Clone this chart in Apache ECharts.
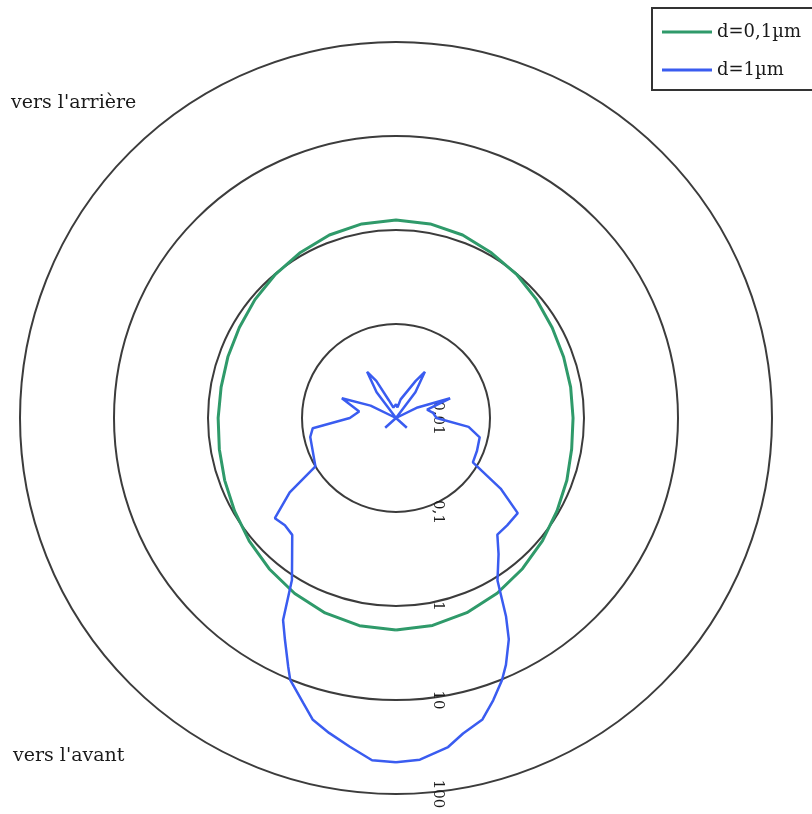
<!DOCTYPE html>
<html>
<head>
<meta charset="utf-8">
<script src="https://cdn.jsdelivr.net/npm/echarts@6/dist/echarts.min.js"></script>
<style>
  html, body { margin: 0; padding: 0; background: #ffffff; }
  #chart { width: 812px; height: 814px; }
</style>
</head>
<body>
<div id="chart"></div>
<script>
// Radial (log) tick values and the two particle diameters
const radiusTicks = [0.01, 0.1, 1, 10, 100];
const seriesNames = ['d=0,1µm', 'd=1µm'];
const sideLabels = ["vers l'arrière", "vers l'avant"];

// Scattering angle in degrees (0 = forward, 180 = backward) and intensity, d = 0.1 µm
const anglesSmall = [0, 10, 20, 30, 40, 50, 60, 70, 80, 90, 100, 110, 120, 130, 140, 150, 160, 170, 180,
                     190, 200, 210, 220, 230, 240, 250, 260, 270, 280, 290, 300, 310, 320, 330, 340, 350, 360];
const valuesSmall = [1.80, 1.75, 1.61, 1.43, 1.25, 1.09, 0.96, 0.87, 0.81, 0.78, 0.775, 0.80, 0.84, 0.91, 0.99, 1.08, 1.18, 1.25, 1.28,
                     1.25, 1.18, 1.07, 0.99, 0.90, 0.83, 0.79, 0.77, 0.765, 0.79, 0.86, 0.95, 1.08, 1.24, 1.42, 1.60, 1.74, 1.80];

// Scattering angle and intensity, d = 1 µm
const anglesLarge = [0, 4, 8, 12, 15.4, 18, 22, 23.4, 26.6, 29.2, 32.7, 36.8, 41.6, 46, 50.4,
                     55, 59, 68, 77.5, 83, 90, 100, 110, 116, 125, 132, 139, 143, 148, 152, 158, 166, 172,
                     180, 188, 194, 208, 212, 217, 221, 228, 235, 244, 250, 255, 262, 270, 277, 283,
                     292, 300, 304, 308, 314, 319, 323, 328, 331, 333, 336, 338, 341, 344, 348,
                     351, 356, 360];
const valuesLarge = [46, 44.6, 34, 26.6, 21.4, 15.5, 10.1, 7.7, 4.35, 2.9, 1.12, 0.70, 0.46, 0.44, 0.47,
                     0.24, 0.10, 0.09, 0.086, 0.078, 0.031, 0.025, 0.041, 0.02, 0.01, 0.007, 0.01, 0.022, 0.038, 0.028, 0.016, 0.013, 0.013,
                     0.014, 0.013, 0.016, 0.028, 0.038, 0.022, 0.01, 0.007, 0.01, 0.018, 0.041, 0.022, 0.025, 0.027, 0.06, 0.082,
                     0.085, 0.088, 0.22, 0.44, 0.44, 0.44, 0.65, 1.09, 2.6, 4.4, 7.5, 10.2, 15, 21.7, 27,
                     35, 44, 46];

const colors = ['#2f9a6a', '#3a5cf0'];
const serif = '"DejaVu Serif", "Liberation Serif", serif';

const toPairs = (angles, values) => angles.map((a, i) => [values[i], a]);

const chart = echarts.init(document.getElementById('chart'), null, { renderer: 'canvas' });

chart.setOption({
  backgroundColor: '#ffffff',
  animation: false,
  polar: { center: [396, 418], radius: 376 },
  angleAxis: {
    type: 'value', min: 0, max: 360, startAngle: 270, clockwise: true,
    axisLine: { show: false }, axisTick: { show: false },
    axisLabel: { show: false }, splitLine: { show: false }
  },
  radiusAxis: {
    type: 'log', logBase: 10,
    min: radiusTicks[0], max: radiusTicks[radiusTicks.length - 1],
    axisLine: { show: false }, axisTick: { show: false },
    splitLine: { show: true, lineStyle: { color: '#3c3c3c', width: 2 } },
    axisLabel: {
      show: true, rotate: -90, margin: 34,
      fontFamily: serif, fontSize: 15, color: '#1a1a1a',
      formatter: v => String(+(+v).toPrecision(2)).replace('.', ',')
    }
  },
  legend: {
    orient: 'vertical', left: 652, top: 8,
    padding: [14, 30, 10, 10], itemGap: 18,
    itemWidth: 50, itemHeight: 3, icon: 'rect',
    borderColor: '#333', borderWidth: 2, backgroundColor: '#ffffff',
    textStyle: { fontFamily: serif, fontSize: 18, color: '#1a1a1a', lineHeight: 20 },
    data: seriesNames
  },
  graphic: [
    { type: 'text', left: 11, top: 94,
      style: { text: sideLabels[0], font: '19px ' + serif, fill: '#1a1a1a' } },
    { type: 'text', left: 13, top: 747,
      style: { text: sideLabels[1], font: '19px ' + serif, fill: '#1a1a1a' } }
  ],
  series: [
    {
      name: seriesNames[0], type: 'line', coordinateSystem: 'polar',
      symbol: 'none', smooth: false, clip: false,
      lineStyle: { color: colors[0], width: 3 }, itemStyle: { color: colors[0] },
      data: toPairs(anglesSmall, valuesSmall)
    },
    {
      name: seriesNames[1], type: 'line', coordinateSystem: 'polar',
      symbol: 'none', smooth: false, clip: false,
      lineStyle: { color: colors[1], width: 2.5 }, itemStyle: { color: colors[1] },
      data: toPairs(anglesLarge, valuesLarge)
    }
  ]
});
</script>
</body>
</html>
